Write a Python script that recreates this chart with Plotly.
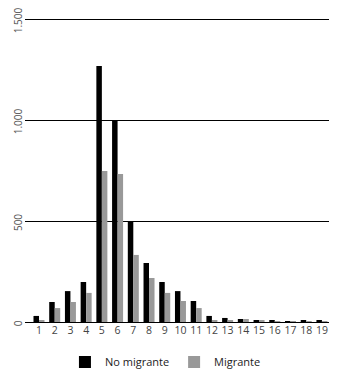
import plotly.graph_objects as go

categories = [str(i) for i in range(1, 20)]
no_migrante = [30, 99, 153, 198, 1267, 1000, 500, 292, 198, 153, 104, 30, 20, 15, 8, 8, 4, 5, 5]
migrante = [10, 69, 99, 144, 747, 733, 332, 218, 144, 104, 69, 10, 10, 15, 5, 3, 4, 3, 4]
y_ticks = [0, 500, 1000, 1500]
y_labels = ["0", "500", "1.000", "1.500"]

fig = go.Figure()
fig.add_trace(go.Bar(x=categories, y=no_migrante, name="No migrante", marker_color="#000000", marker_line_width=0))
fig.add_trace(go.Bar(x=categories, y=migrante, name="Migrante", marker_color="#999999", marker_line_width=0))

# the page body keeps its default 8px margin, so the figure is sized to fit the window
fig.update_layout(
    width=325, height=365,
    margin=dict(l=17, r=4, t=8, b=51),
    paper_bgcolor="white", plot_bgcolor="white",
    font=dict(family="Open Sans", color="#333333", size=10),
    barmode="group", bargap=0.3, bargroupgap=0,
    showlegend=True,
    legend=dict(orientation="h", x=0.462, xanchor="center", yref="container", y=0.03, yanchor="middle",
                font=dict(size=11, color="#222222"), itemwidth=30),
    xaxis=dict(showgrid=False, showline=False, ticks="", tickmode="array", tickvals=categories,
               ticktext=categories, tickfont=dict(size=10.5, color="#444444"), automargin=False,
               range=[-0.89, 18.45]),
    yaxis=dict(range=[0, 1515], tickvals=y_ticks, ticktext=y_labels, tickangle=-90,
               showgrid=True, gridcolor="#000000", gridwidth=1, zeroline=True, zerolinecolor="#000000",
               zerolinewidth=1, tickfont=dict(size=10, color="#555555"), showline=False,
               layer="above traces", automargin=False, ticklabeloverflow="allow", ticklabelshift=3),
)
fig.write_html("out.html", config={"displayModeBar": False})
